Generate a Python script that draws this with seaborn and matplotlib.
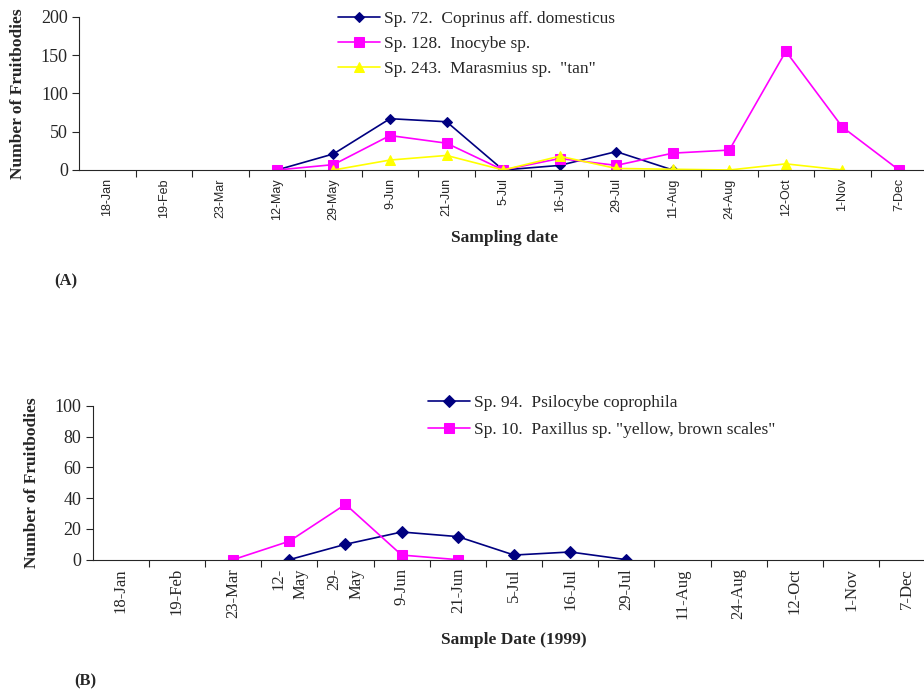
import numpy as np
import pandas as pd
import matplotlib
matplotlib.use("Agg")
import matplotlib.pyplot as plt
import seaborn as sns

# --- data ---
dates = ["18-Jan", "19-Feb", "23-Mar", "12-May", "29-May", "9-Jun", "21-Jun",
         "5-Jul", "16-Jul", "29-Jul", "11-Aug", "24-Aug", "12-Oct", "1-Nov", "7-Dec"]
dates_b = ["18-Jan", "19-Feb", "23-Mar", "12-\nMay", "29-\nMay", "9-Jun", "21-Jun",
           "5-Jul", "16-Jul", "29-Jul", "11-Aug", "24-Aug", "12-Oct", "1-Nov", "7-Dec"]

nan = np.nan
# panel A
sp72 = [nan, nan, nan, 0, 21, 67, 63, 0, 6, 24, 0, nan, nan, nan, nan]
sp128 = [nan, nan, nan, 0, 7, 45, 35, 0, 15, 6, 22, 26, 155, 56, 0]
sp243 = [nan, nan, nan, nan, 0, 13, 19, 0, 18, 2, 1, 0, 8, 0, nan]
# panel B
sp94 = [nan, nan, nan, 0, 10, 18, 15, 3, 5, 0, nan, nan, nan, nan, nan]
sp10 = [nan, nan, 0, 12, 36, 3, 0, nan, nan, nan, nan, nan, nan, nan, nan]

labels_a = ["Sp. 72.  Coprinus aff. domesticus",
            "Sp. 128.  Inocybe sp.",
            "Sp. 243.  Marasmius sp.  \"tan\""]
labels_b = ["Sp. 94.  Psilocybe coprophila",
            "Sp. 10.  Paxillus sp. \"yellow, brown scales\""]

sns.set_style("ticks")
plt.rcParams["font.family"] = ["Liberation Serif", "DejaVu Serif"]

fig = plt.figure(figsize=(9.24, 6.93), dpi=100)
ax1 = fig.add_axes([0.0855, 0.7547, 0.918, 0.221])
ax2 = fig.add_axes([0.1003, 0.1924, 0.912, 0.2218])

pos = np.arange(len(dates))


def draw(ax, values, color, marker, size, label):
    df = pd.DataFrame({"pos": pos, "count": values}).dropna()
    sns.lineplot(data=df, x="pos", y="count", ax=ax, color=color, marker=marker,
                 markersize=size, markeredgecolor=color, linewidth=1.2, label=label)


draw(ax1, sp72, "#000080", "D", 5.5, labels_a[0])
draw(ax1, sp128, "#FF00FF", "s", 7.5, labels_a[1])
draw(ax1, sp243, "#FFFF00", "^", 7.5, labels_a[2])

draw(ax2, sp94, "#000080", "D", 6, labels_b[0])
draw(ax2, sp10, "#FF00FF", "s", 7.5, labels_b[1])


def style_axis(ax, ticklabels, ymax, ystep, tickfont, tick_size):
    ax.set_xlim(-0.5, len(dates) - 0.5)
    ax.set_ylim(0, ymax)
    ax.set_yticks(np.arange(0, ymax + 1, ystep))
    ax.tick_params(axis="y", labelsize=13, length=5, width=0.8, pad=3)
    # ticks on the boundaries, labels in the middle
    ax.set_xticks(pos[:-1] + 0.5)
    ax.set_xticklabels([])
    ax.tick_params(axis="x", which="major", length=5, width=0.8)
    ax.set_xticks(pos, minor=True)
    ax.set_xticklabels(ticklabels, minor=True, rotation=90, fontsize=tick_size,
                       family=tickfont, va="top", ha="center", linespacing=1.5,
                       multialignment="right")
    ax.tick_params(axis="x", which="minor", length=0, pad=6)
    for s in ["top", "right"]:
        ax.spines[s].set_visible(False)
    ax.spines["left"].set_linewidth(0.8)
    ax.spines["bottom"].set_linewidth(0.8)
    ax.set_xlabel("")
    ax.set_ylabel("")
    ax.legend_.remove()


style_axis(ax1, dates, 200, 50, ["Liberation Sans"], 9)
style_axis(ax2, dates_b, 100, 20, ["Liberation Serif"], 12)

ax1.set_ylabel("Number of Fruitbodies", fontsize=12.5, fontweight="bold")
ax2.set_ylabel("Number of Fruitbodies", fontsize=12.5, fontweight="bold")
ax1.yaxis.set_label_coords((18 - 79) / (0.918 * 924), 0.5)
ax2.yaxis.set_label_coords((32 - 92.7) / (0.912 * 924), 0.5)
ax1.yaxis.label.set_va("center")
ax2.yaxis.label.set_va("center")

fig.text(505 / 924, 1 - 238 / 693, "Sampling date", fontsize=12.5, fontweight="bold",
         ha="center", va="center")
fig.text(514 / 924, 1 - 640 / 693, "Sample Date (1999)", fontsize=12.5, fontweight="bold",
         ha="center", va="center")
fig.text(54 / 924, 1 - 281 / 693, "(A)", fontsize=12, fontweight="bold", ha="left", va="center")
fig.text(74 / 924, 1 - 681 / 693, "(B)", fontsize=12, fontweight="bold", ha="left", va="center")

h1, l1 = ax1.get_legend_handles_labels()
fig.legend(h1, l1, loc="upper left", bbox_to_anchor=(331 / 924, 1 - 4 / 693), frameon=False,
           fontsize=12.5, handlelength=2.4, handletextpad=0.25, labelspacing=0.5,
           borderaxespad=0)
h2, l2 = ax2.get_legend_handles_labels()
fig.legend(h2, l2, loc="upper left", bbox_to_anchor=(421 / 924, 1 - 388 / 693), frameon=False,
           fontsize=12.5, handlelength=2.4, handletextpad=0.25, labelspacing=0.6,
           borderaxespad=0)

fig.savefig("out.png", dpi=100)
